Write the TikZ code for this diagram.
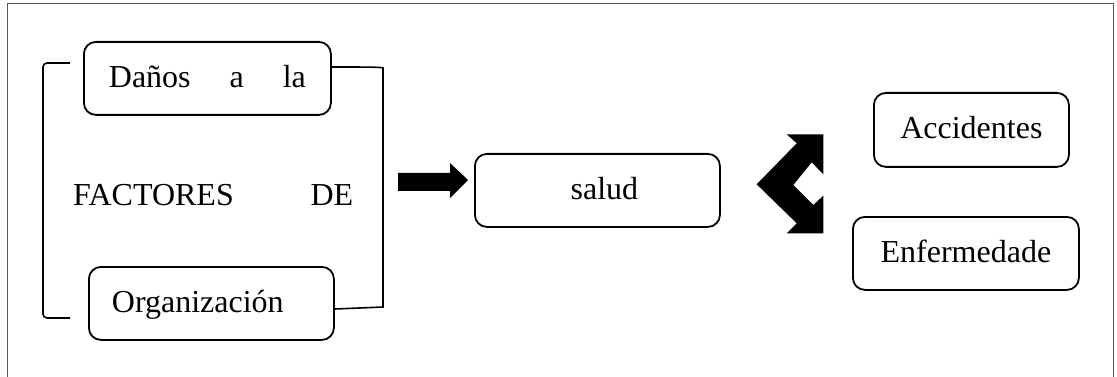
\documentclass[tikz,border=0pt]{standalone}
\usepackage{fontspec}
\setmainfont{Liberation Serif}
\begin{document}
\begin{tikzpicture}[x=1pt,y=-1pt,
  box/.style={draw, line width=1.8pt, rounded corners=12pt, inner ysep=0pt,
    text height=22pt, text depth=4pt, font=\fontsize{32}{38}\selectfont},
  txt/.style={inner sep=0pt, font=\fontsize{32}{38}\selectfont},
  brk/.style={line width=1.6pt, rounded corners=4pt},
  frame/.style={line width=1pt, black!65}]
\useasboundingbox (0,0) rectangle (1117,377);
\draw[frame] (7,377) -- (7,4) -- (1113,4) -- (1113,377);
% left group
\node[box, anchor=north west, minimum height=73pt, inner xsep=25pt, text width=197pt, align=left] (danos) at (83,41) {Daños\hfill a\hfill la};
\node[box, anchor=north west, minimum height=73pt, inner xsep=23pt, text width=199pt, align=left] (org) at (88,266) {Organización};
\node[txt, anchor=base west, text width=280pt, align=left] (fact) at (73,205) {FACTORES\hfill DE};
% brackets
\coordinate (lt) at (70,63);
\coordinate (lb) at (70,318);
\draw[brk] (lt) -- (43,63) -- (43,318) -- (lb);
\draw[brk] (danos.east |- 0,67) .. controls (360,67) and (383,67) .. (383,72) -- (383,303) .. controls (383,307) and (360,308) .. (org.east |- 0,309);
% block arrow
\fill (398,173) -- (450,173) -- (450,163) -- (468,180) -- (450,198) -- (450,191) -- (398,191) -- cycle;
% salud
\node[box, anchor=north west, minimum height=73pt, inner xsep=0pt, text width=245pt, align=center] (salud) at (474,153) {\hspace*{14pt}salud};
% chevron double arrow
\fill (786.7,134.3) -- (823.3,134.3) -- (823.3,174.3) -- (811.7,162.3) -- (793.3,185) -- (813.3,205) -- (823.3,195.7) -- (823.3,233.3) -- (786.7,233.3) -- (796.7,223.3) -- (756.7,184.3) -- (796.7,143.3) -- cycle;
% right boxes
\node[box, anchor=north west, minimum height=74pt, minimum width=195pt] (acc) at (873,92) {Accidentes};
\node[box, anchor=north west, minimum height=73pt, minimum width=226pt] (enf) at (852,216) {Enfermedade};
\end{tikzpicture}
\end{document}
